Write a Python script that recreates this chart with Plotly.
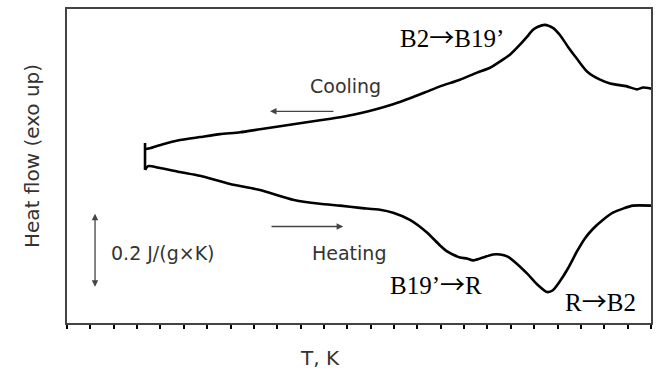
import plotly.graph_objects as go

# Temperature (K) and heat flow (J/(g*K), arbitrary offset)
cooling_T = [183.8, 185.5, 191.1, 198.4, 206.9, 215.5, 224.1, 232.6, 241.2, 249.7, 258.3, 266.9, 275.4,
             281.9, 289.6, 296.8, 304.1, 309.7, 318.2, 325.5, 331.1, 336.6, 339.6, 343.9, 346.9, 349.5,
             351.6, 354.6, 358.0, 361.0, 364.5, 368.3, 372.6, 378.2, 382.5, 389.7, 394.0, 396.6, 400.0]
cooling_H = [0.467, 0.469, 0.480, 0.491, 0.499, 0.507, 0.512, 0.520, 0.528, 0.536, 0.544, 0.552, 0.563,
             0.573, 0.587, 0.603, 0.621, 0.635, 0.653, 0.672, 0.685, 0.707, 0.720, 0.747, 0.768, 0.787,
             0.795, 0.800, 0.792, 0.773, 0.741, 0.709, 0.675, 0.653, 0.643, 0.635, 0.627, 0.632, 0.629]

# isothermal hold between cooling and heating
hold_T = [183.4, 183.4]
hold_H = [0.483, 0.411]

heating_T = [183.4, 184.7, 189.8, 198.4, 206.9, 219.8, 232.6, 246.7, 258.3, 266.9, 275.4, 284.0,
             289.6, 296.8, 304.1, 309.7, 312.7, 318.2, 321.2, 323.8, 326.8, 332.4, 335.4, 338.4, 341.8,
             346.9, 351.2, 355.5, 358.0, 361.0, 364.5, 368.3, 371.7, 375.2, 379.5, 383.7, 388.0, 392.3, 400.0]
heating_H = [0.411, 0.421, 0.416, 0.405, 0.395, 0.373, 0.357, 0.331, 0.320, 0.315, 0.309, 0.304,
             0.296, 0.277, 0.243, 0.208, 0.192, 0.176, 0.173, 0.168, 0.173, 0.184, 0.184, 0.179, 0.163,
             0.133, 0.104, 0.083, 0.088, 0.112, 0.147, 0.192, 0.227, 0.253, 0.277, 0.296, 0.307, 0.315, 0.315]

x_ticks = list(range(150, 401, 10))

SANS = "DejaVu Sans"
SERIF = "Liberation Serif"
TXT = "#333333"
ARROW = '<span style="font-family:Noto Sans CJK SC">→</span>'

fig = go.Figure()
for xs, ys, shape in [(cooling_T, cooling_H, "spline"), (hold_T, hold_H, "linear"),
                      (heating_T, heating_H, "spline")]:
    fig.add_trace(go.Scatter(x=xs, y=ys, mode="lines", line_shape=shape,
                             line=dict(color="black", width=2.6, smoothing=0.6)
                             if shape == "spline" else dict(color="black", width=2.6),
                             showlegend=False))

ann = []
# phase transition labels
ann.append(dict(x=314.8, y=0.771, text="B2" + ARROW + "B19’", showarrow=False,
                font=dict(family=SERIF, size=25, color="black")))
ann.append(dict(x=308.0, y=0.107, text="B19’" + ARROW + "R", showarrow=False,
                font=dict(family=SERIF, size=25, color="black")))
ann.append(dict(x=378.2, y=0.061, text="R" + ARROW + "B2", showarrow=False,
                font=dict(family=SERIF, size=25, color="black")))
# process labels
ann.append(dict(x=269.4, y=0.635, text="Cooling", showarrow=False,
                font=dict(family=SANS, size=19, color=TXT)))
ann.append(dict(x=270.9, y=0.187, text="Heating", showarrow=False,
                font=dict(family=SANS, size=19, color=TXT)))
ann.append(dict(x=191.1, y=0.187, text="0.2 J/(g×K)", showarrow=False,
                font=dict(family=SANS, size=19, color=TXT)))
# direction arrows
ann.append(dict(x=236.9, y=0.568, ax=264.7, ay=0.568, axref="x", ayref="y",
                text="", showarrow=True, arrowhead=2, arrowsize=1, arrowwidth=1.3,
                arrowcolor="#444444"))
ann.append(dict(x=268.2, y=0.259, ax=236.9, ay=0.259, axref="x", ayref="y",
                text="", showarrow=True, arrowhead=2, arrowsize=1, arrowwidth=1.3,
                arrowcolor="#444444"))
# scale bar
ann.append(dict(x=162.0, y=0.293, ax=162.0, ay=0.093, axref="x", ayref="y",
                text="", showarrow=True, arrowhead=2, startarrowhead=2, arrowside="end+start",
                arrowsize=1, arrowwidth=1.3, arrowcolor="#444444"))
# axis titles
ann.append(dict(xref="paper", yref="paper", x=-0.0599, y=0.532, text="Heat flow (exo up)",
                textangle=-90, showarrow=False, xanchor="center", yanchor="middle",
                font=dict(family=SANS, size=20, color=TXT)))
ann.append(dict(xref="paper", yref="paper", x=0.433, y=-0.111, text="T, K",
                showarrow=False, xanchor="center", yanchor="middle",
                font=dict(family=SANS, size=20, color=TXT)))

fig.update_layout(
    width=660, height=372,
    margin=dict(l=67, r=9, t=7, b=49),
    paper_bgcolor="white", plot_bgcolor="white",
    annotations=ann,
    xaxis=dict(range=[150, 400], tickvals=x_ticks, ticks="outside", ticklen=4, tickwidth=1.5,
               tickcolor="black", showticklabels=False, showgrid=False, zeroline=False,
               showline=True, mirror=True, linecolor="#444444", linewidth=2),
    yaxis=dict(range=[0, 0.8427], showticklabels=False, showgrid=False, zeroline=False,
               ticks="", showline=True, mirror=True, linecolor="#444444", linewidth=2),
)

fig.write_html("out.html")
